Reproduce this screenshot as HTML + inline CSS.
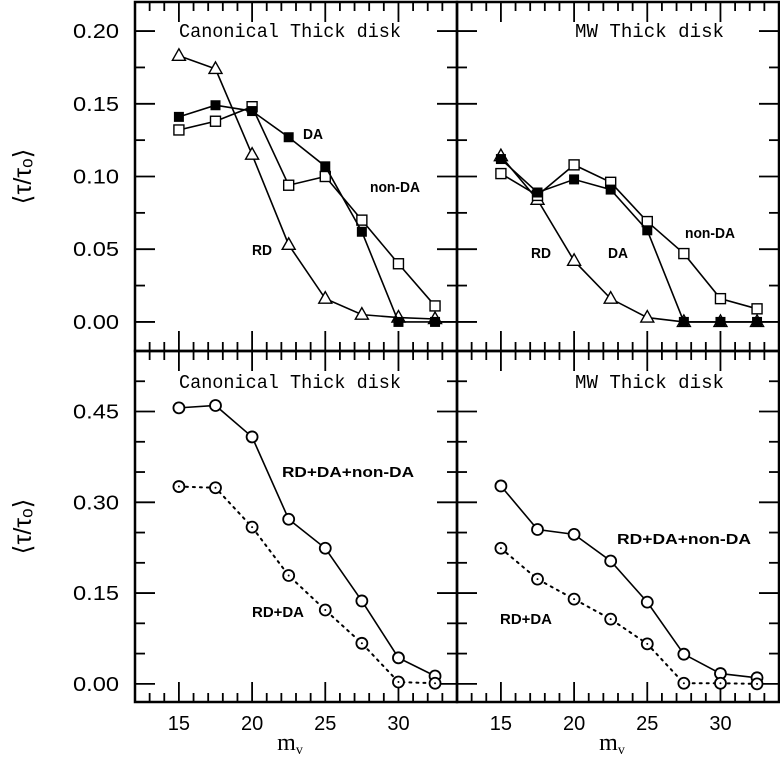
<!DOCTYPE html>
<html><head><meta charset="utf-8"><style>
body{margin:0;background:#fff;}
svg{display:block;font-family:"Liberation Sans",sans-serif;}
.tl{font-size:20px;fill:#000;}
.ttl{font-family:"Liberation Mono",monospace;font-size:19px;}
.ann{font-size:15px;font-weight:bold;}
</style></head><body>
<svg id="c" width="780" height="760" viewBox="0 0 780 760"></svg>
<script>
const mags=[15,17.5,20,22.5,25,27.5,30,32.5];
const canRD=[0.183,0.174,0.115,0.053,0.016,0.005,0.003,0.002];
const canDA=[0.141,0.149,0.145,0.127,0.107,0.062,0.000,0.000];
const canNonDA=[0.132,0.138,0.148,0.094,0.100,0.070,0.040,0.011];
const mwRD=[0.114,0.084,0.042,0.016,0.003,0.000,0.000,0.000];
const mwDA=[0.112,0.089,0.098,0.091,0.063,0.000,0.000,0.000];
const mwNonDA=[0.102,0.087,0.108,0.096,0.069,0.047,0.016,0.009];
const canAll=[0.456,0.460,0.408,0.272,0.224,0.137,0.043,0.013];
const canRDDA=[0.326,0.324,0.259,0.179,0.122,0.067,0.003,0.001];
const mwAll=[0.327,0.255,0.247,0.203,0.135,0.049,0.017,0.010];
const mwRDDA=[0.224,0.173,0.140,0.107,0.066,0.001,0.001,0.000];
const topTicks=["0.00","0.05","0.10","0.15","0.20"];
const botTicks=["0.00","0.15","0.30","0.45"];
const xTicks=["15","20","25","30"];

const NS="http://www.w3.org/2000/svg";
const svg=document.getElementById('c');
function mk(t,a,p){const e=document.createElementNS(NS,t);for(const k in a)e.setAttribute(k,a[k]);(p||svg).appendChild(e);return e;}
const cols=[{x0:135,x1:457},{x0:457,x1:779}];
const rows=[{y0:2,y1:351,lo:-0.02,hi:0.22,maj:0.05,min:0.025,labels:topTicks},
            {y0:351,y1:702,lo:-0.03,hi:0.55,maj:0.15,min:0.05,labels:botTicks}];
function X(c,v){return c.x0+(v-12)/22*(c.x1-c.x0);}
function Y(r,v){return r.y1-(v-r.lo)/(r.hi-r.lo)*(r.y1-r.y0);}

for(let ri=0;ri<2;ri++)for(let ci=0;ci<2;ci++){
  const r=rows[ri],c=cols[ci];
  const g=mk('g',{});
  
  
  mk('rect',{x:c.x0,y:r.y0,width:c.x1-c.x0,height:r.y1-r.y0,fill:'none',stroke:'#000','stroke-width':2.5},g);
  for(let m=13;m<=33;m++){
    const big=m%5==0,L=big?20:9,xx=X(c,m);
    mk('line',{x1:xx,x2:xx,y1:r.y1,y2:r.y1-L,stroke:'#000','stroke-width':1.8},g);
    mk('line',{x1:xx,x2:xx,y1:r.y0,y2:r.y0+L,stroke:'#000','stroke-width':1.8},g);
  }
  for(let v=0;v<=r.hi+1e-9;v+=r.min){
    const big=Math.abs(v/r.maj-Math.round(v/r.maj))<1e-6,L=big?20:10,yy=Y(r,v);
    mk('line',{x1:c.x0,x2:c.x0+L,y1:yy,y2:yy,stroke:'#000','stroke-width':1.8},g);
    mk('line',{x1:c.x1,x2:c.x1-L,y1:yy,y2:yy,stroke:'#000','stroke-width':1.8},g);
  }
}
rows.forEach((r,ri)=>{
  r.labels.forEach(s=>{
    const t=mk('text',{x:73,y:Y(r,parseFloat(s))+7,class:'tl',textLength:46,lengthAdjust:'spacingAndGlyphs'});
    t.textContent=s;
    
    
  });
  const yl=mk('text',{x:0,y:0,class:'tl','text-anchor':'middle',style:'font-size:25px',transform:`translate(31,${(r.y0+r.y1)/2}) rotate(-90)`});
  yl.textContent='⟨τ/τₒ⟩';
  
  
});
cols.forEach(c=>{
  xTicks.forEach(s=>{
    const t=mk('text',{x:X(c,parseFloat(s)),y:730,'text-anchor':'middle',class:'tl'});
    t.textContent=s;
    
    
  });
  const xl=mk('text',{x:(c.x0+c.x1)/2-6,y:750,'text-anchor':'middle',class:'tl',style:'font-family:Liberation Serif,serif;font-size:24px'});
  xl.innerHTML='m<tspan font-size="14" dy="4">v</tspan>';
  
  
});

function series(ri,ci,vals,marker,dotted,name){
  const r=rows[ri],c=cols[ci];
  const g=mk('g',{});
  
  
  const pts=vals.map((v,i)=>[X(c,mags[i]),Y(r,v)]);
  mk('polyline',{points:pts.map(p=>p.join(',')).join(' '),fill:'none',stroke:'#000','stroke-width':dotted?2:1.6,'stroke-dasharray':dotted?'2,5':'none','stroke-linecap':'round'},g);
  pts.forEach(([x,y])=>{
    let m;
    if(marker=='tri')m=mk('polygon',{points:`${x},${y-7} ${x-6.5},${y+4.5} ${x+6.5},${y+4.5}`,fill:'#fff',stroke:'#000','stroke-width':1.4},g);
    else if(marker=='fsq')m=mk('rect',{x:x-5,y:y-5,width:10,height:10,fill:'#000'},g);
    else if(marker=='osq')m=mk('rect',{x:x-5,y:y-5,width:10,height:10,fill:'#fff',stroke:'#000','stroke-width':1.4},g);
    else{m=mk('circle',{cx:x,cy:y,r:5.5,fill:'#fff',stroke:'#000','stroke-width':1.8},g);
      if(dotted)mk('circle',{cx:x,cy:y,r:1,fill:'#000'},g);}
    
    
  });
}
series(0,0,canRD,'tri',false,'series-canonical-rd');
series(0,0,canNonDA,'osq',false,'series-canonical-non-da');
series(0,0,canDA,'fsq',false,'series-canonical-da');
series(0,1,mwRD,'tri',false,'series-mw-rd');
series(0,1,mwNonDA,'osq',false,'series-mw-non-da');
series(0,1,mwDA,'fsq',false,'series-mw-da');
series(1,0,canAll,'circ',false,'series-canonical-all');
series(1,0,canRDDA,'circ',true,'series-canonical-rd-da');
series(1,1,mwAll,'circ',false,'series-mw-all');
series(1,1,mwRDDA,'circ',true,'series-mw-rd-da');

function txt(x,y,s,cls,name,w){const a={x:x,y:y,class:cls};if(w){a.textLength=w;a.lengthAdjust='spacingAndGlyphs';}
  const t=mk('text',a);t.textContent=s;
  
  }
txt(179,37,'Canonical Thick disk','ttl','panel-title',222);
txt(575,37,'MW Thick disk','ttl','panel-title',149);
txt(179,388,'Canonical Thick disk','ttl','panel-title',222);
txt(575,388,'MW Thick disk','ttl','panel-title',149);
txt(303,139,'DA','ann','label-da',20);
txt(370,192,'non-DA','ann','label-non-da',50);
txt(252,255,'RD','ann','label-rd',20);
txt(531,258,'RD','ann','label-rd',20);
txt(608,258,'DA','ann','label-da',20);
txt(685,238,'non-DA','ann','label-non-da',50);
txt(282,477,'RD+DA+non-DA','ann','label-all',132);
txt(252,617,'RD+DA','ann','label-rd-da',52);
txt(617,544,'RD+DA+non-DA','ann','label-all',134);
txt(500,624,'RD+DA','ann','label-rd-da',52);
</script>
</body></html>
